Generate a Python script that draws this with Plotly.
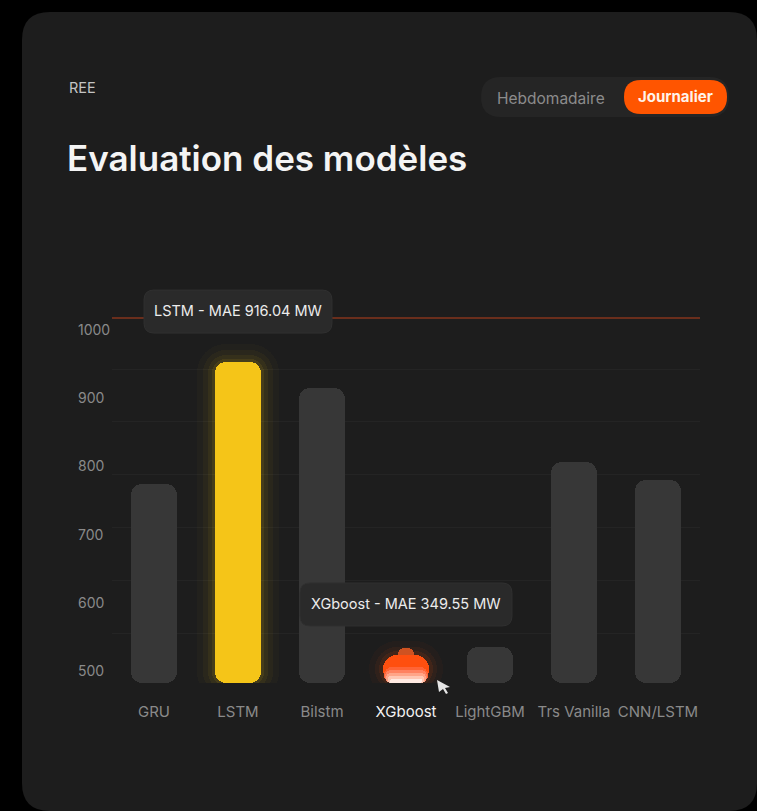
import math
import plotly.graph_objects as go

# ---------------- data ----------------
categories = ["GRU", "LSTM", "Bilstm", "XGboost", "LightGBM", "Trs Vanilla", "CNN/LSTM"]
bar_values = [774, 953, 915, 523.5, 535, 806.5, 780]
highlight_lstm = "LSTM"
highlight_xgb = "XGboost"
tooltip_lstm = "LSTM - MAE 916.04 MW"
tooltip_xgb = "XGboost - MAE 349.55 MW"
y_tick_values = [500, 600, 700, 800, 900, 1000]
y_tick_labels = ["500", "600", "700", "800", "900", "1000"]
y_range = [482.4, 1017.6]

# ---------------- style ----------------
W, H = 757, 811
ML, MR, MT, MB = 74, 57, 318, 128
PW, PH = W - ML - MR, H - MT - MB
X0_PX = 112            # left edge of the category area
CAT_PX = (W - MR - X0_PX) / len(categories)
FONT = "Inter"
CARD = "#1d1d1d"
GREY_BAR = "#373737"
YELLOW = "#f5c518"
ORANGE = "#ff4f0f"
LABEL = "#8a8a8a"
TIP_BG = "#2a2a2a"
BAR_W = 0.55
RAD = 11
XGB_RAD = 14
floor = y_range[0]
px_per_unit = PH / (y_range[1] - y_range[0])


def P(px, py):
    return (px - ML) / PW, (H - MB - py) / PH


def rrect(x0, y0, x1, y1, r):
    pts = [("M", [(x0 + r, y0)]), ("L", [(x1 - r, y0)]), ("Q", [(x1, y0), (x1, y0 + r)]),
           ("L", [(x1, y1 - r)]), ("Q", [(x1, y1), (x1 - r, y1)]), ("L", [(x0 + r, y1)]),
           ("Q", [(x0, y1), (x0, y1 - r)]), ("L", [(x0, y0 + r)]), ("Q", [(x0, y0), (x0 + r, y0)])]
    s = ""
    for cmd, ps in pts:
        s += cmd + " " + " ".join("%.5f,%.5f" % P(a, b) for a, b in ps) + " "
    return s + "Z"


fig = go.Figure()


def bar(cats, lo, hi, color, width, radius):
    fig.add_trace(go.Bar(x=cats, y=[h - l for l, h in zip(lo, hi)], base=lo, width=width,
                         marker=dict(color=color, cornerradius=radius, line=dict(width=0)),
                         hoverinfo="skip", showlegend=False))


grey_cats = [c for c in categories if c not in (highlight_lstm, highlight_xgb)]
grey_vals = [v for c, v in zip(categories, bar_values) if c in grey_cats]
lstm_v = bar_values[categories.index(highlight_lstm)]
xgb_v = bar_values[categories.index(highlight_xgb)]

# grey bars
bar(grey_cats, [floor] * len(grey_cats), grey_vals, GREY_BAR, BAR_W, RAD)

# LSTM glow + bar
for pad, alpha in ((18, 0.025), (12, 0.04), (7, 0.06), (3, 0.09)):
    bar([highlight_lstm], [floor - pad / px_per_unit], [lstm_v + pad / px_per_unit],
        "rgba(245,197,24,%.3f)" % alpha, BAR_W + 2 * pad / CAT_PX, RAD + pad)
bar([highlight_lstm], [floor], [lstm_v], YELLOW, BAR_W, RAD)

# XGboost glow + bump + body + light bottom
for pad, alpha in ((14, 0.035), (8, 0.06), (4, 0.09)):
    bar([highlight_xgb], [floor - pad / px_per_unit], [xgb_v + pad / px_per_unit],
        "rgba(255,80,15,%.3f)" % alpha, BAR_W + 2 * pad / CAT_PX, XGB_RAD + pad)
bar([highlight_xgb], [xgb_v - 6 / px_per_unit], [xgb_v + 7 / px_per_unit], "#cf5221", 0.18, 7)
bar([highlight_xgb], [floor], [xgb_v], ORANGE, BAR_W, XGB_RAD)
bar_px = BAR_W * CAT_PX
for h, col in ((16, "#ff6436"), (13, "#ff8260"), (10, "#ffa588"), (7, "#ffc7b3"), (4, "#ffebe3")):
    d = XGB_RAD - h / 2
    inset = XGB_RAD - math.sqrt(max(XGB_RAD ** 2 - d ** 2, 0))
    bar([highlight_xgb], [floor], [floor + h / px_per_unit], col,
        (bar_px - 2 * inset) / CAT_PX, h / 2)

ticktext = ["<span style='color:#f2f2f2'>%s</span>" % c if c == highlight_xgb else c for c in categories]


def tooltip(cat, value, text, box_w):
    cx = X0_PX + (categories.index(cat) + 0.5) * CAT_PX
    bottom = H - MB - (value - floor) * px_per_unit - 29
    shape = dict(type="path", xref="paper", yref="paper",
                 path=rrect(cx - box_w / 2, bottom - 43, cx + box_w / 2, bottom, 10),
                 fillcolor=TIP_BG, line=dict(color="#303030", width=1), layer="above")
    ann = dict(x=cat, y=value, xref="x", yref="y", text=text, showarrow=False,
               yanchor="bottom", yshift=29 + 12, font=dict(family=FONT, size=14.5, color="#ececec"))
    return shape, ann


tip_shapes, annotations = [], []
for cat, val, txt, bw in ((highlight_lstm, lstm_v, tooltip_lstm, 188),
                          (highlight_xgb, xgb_v, tooltip_xgb, 212)):
    s, a = tooltip(cat, val, txt, bw)
    tip_shapes.append(s)
    annotations.append(a)

rx, ry = P(67, 88)
annotations.append(dict(x=rx, y=ry, xref="paper", yref="paper", text="REE", showarrow=False,
                        xanchor="left", yanchor="middle", font=dict(family=FONT, size=14.5, color="#c4c4c4")))
tx, ty = P(65, 158)
annotations.append(dict(x=tx, y=ty, xref="paper", yref="paper", text="Evaluation des modèles",
                        showarrow=False, xanchor="left", yanchor="middle",
                        font=dict(family=FONT, size=35, color="#f4f4f4", weight=600)))
hx, hy = P(551, 98)
annotations.append(dict(x=hx, y=hy, xref="paper", yref="paper", text="Hebdomadaire", showarrow=False,
                        xanchor="center", yanchor="middle", font=dict(family=FONT, size=15.5, color="#8c8c8c")))
jx, jy = P(675, 97)
annotations.append(dict(x=jx, y=jy, xref="paper", yref="paper", text="<b>Journalier</b>", showarrow=False,
                        xanchor="center", yanchor="middle", font=dict(family=FONT, size=15, color="#fff3ea")))

shapes = [
    dict(type="path", xref="paper", yref="paper", path=rrect(22, 12, 757, 811, 28),
         fillcolor=CARD, line=dict(width=0), layer="below"),
    dict(type="path", xref="paper", yref="paper", path=rrect(481, 77, 729, 117, 20),
         fillcolor="#252525", line=dict(width=0), layer="below"),
    dict(type="path", xref="paper", yref="paper", path=rrect(624, 80, 727, 114, 17),
         fillcolor="#ff5500", line=dict(width=0), layer="below"),
    dict(type="line", xref="x domain", yref="y domain", x0=0, x1=1, y0=1, y1=1,
         line=dict(color="#b8401c", width=1.2), layer="below"),
] + tip_shapes

# mouse pointer near the hovered bar
cursor = [(437, 680), (450, 687), (445, 688), (448, 693), (446, 694), (443, 689), (439, 692)]
cursor_path = "M " + " L ".join("%.5f,%.5f" % P(a, b) for a, b in cursor) + " Z"
shapes.append(dict(type="path", xref="paper", yref="paper", path=cursor_path,
                   fillcolor="#e6e6e6", line=dict(width=0), layer="above"))

fig.update_layout(
    width=W, height=H, margin=dict(l=ML, r=MR, t=MT, b=MB),
    paper_bgcolor="#000000", plot_bgcolor="rgba(0,0,0,0)",
    barmode="overlay", bargap=0, showlegend=False,
    font=dict(family=FONT, size=14, color=LABEL),
    shapes=shapes, annotations=annotations,
    xaxis=dict(type="category", domain=[(X0_PX - ML) / PW, 1], range=[-0.5, len(categories) - 0.5],
               categoryorder="array", categoryarray=categories,
               tickvals=categories, ticktext=ticktext, ticks="outside", ticklen=15,
               tickcolor="rgba(0,0,0,0)", showgrid=False, showline=False, zeroline=False,
               tickfont=dict(family=FONT, size=15, color=LABEL), fixedrange=True),
    yaxis=dict(range=y_range, anchor="free", position=0, ticklabelposition="inside",
               tickvals=y_tick_values, ticktext=y_tick_labels, ticks="", showgrid=False,
               showline=False, zeroline=False, tickfont=dict(family=FONT, size=14, color=LABEL),
               minor=dict(tick0=555.7, dtick=77.4, showgrid=True, gridcolor="rgba(255,255,255,0.035)",
                          gridwidth=1, ticks=""), fixedrange=True),
)

fig.write_html("out.html")
